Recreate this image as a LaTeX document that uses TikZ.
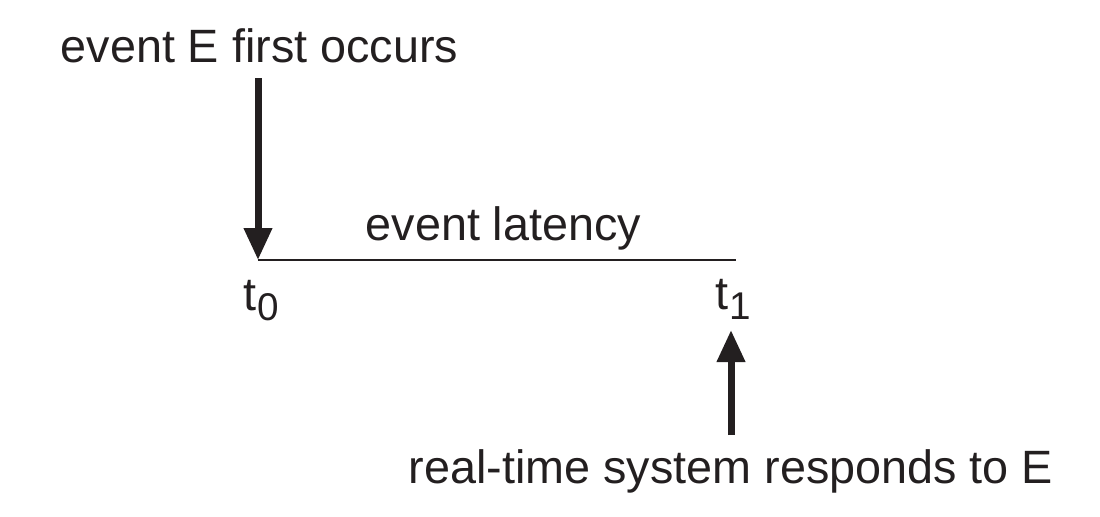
\documentclass[tikz,border=0pt]{standalone}
\usepackage{fontspec}
\setmainfont{Liberation Sans}
\usetikzlibrary{arrows.meta}
\definecolor{ink}{HTML}{231F20}
\tikzset{
  lbl/.style={inner sep=0pt, anchor=base west, text=ink, font=\fontsize{13.3}{16}\selectfont},
  bigarrow/.style={draw=ink, line width=0.07cm, -{Triangle[width=0.27cm,length=0.32cm]}},
  timeline/.style={draw=ink, line width=0.5pt}
}
\newcommand{\tsub}[1]{t\kern0.02em\raisebox{-0.22em}{\fontsize{11}{11}\selectfont #1}}
\begin{document}
\begin{tikzpicture}
\useasboundingbox (0,0) rectangle (11,-5.16);
\node[lbl] (first) at (0.60,-0.625) {event E first occurs};
\coordinate (a0) at (2.58,-0.78);
\coordinate (p0) at (2.58,-2.60);
\coordinate (p1) at (7.36,-2.60);
\coordinate (a1) at (7.31,-4.35);
\coordinate (h1) at (7.31,-3.30);
\node[lbl] (lat) at (3.65,-2.40) {event latency};
\node[lbl] (t0) at (2.43,-3.10) {\tsub{0}};
\node[lbl] (t1) at (7.15,-3.09) {\tsub{1}};
\node[lbl] (resp) at (4.08,-4.83) {real-time system responds to E};
\draw[bigarrow] (a0) -- (p0);
\draw[timeline] (p0) -- (p1);
\draw[bigarrow] (a1) -- (h1);
\end{tikzpicture}
\end{document}
